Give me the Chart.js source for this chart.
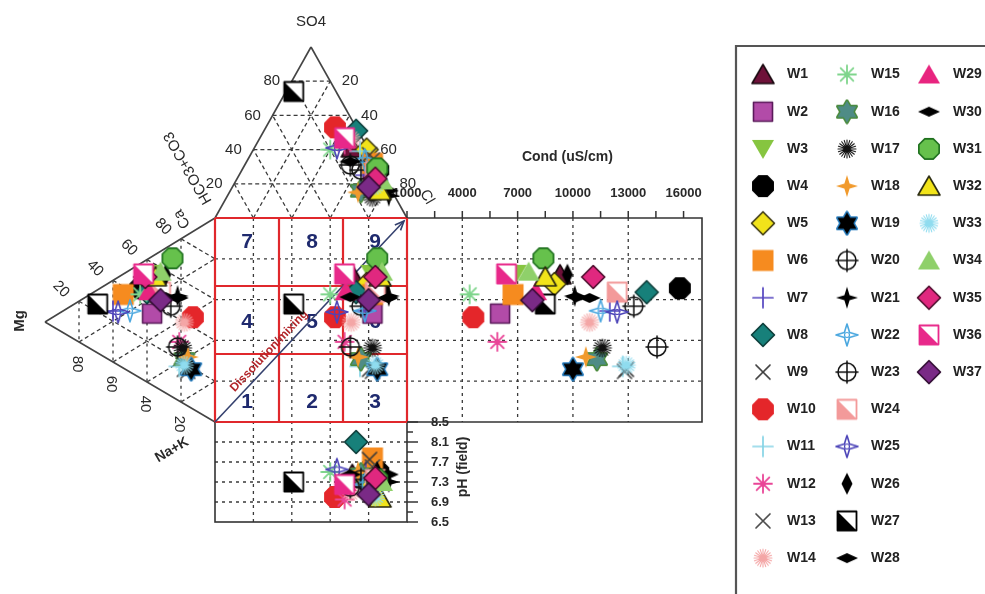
<!DOCTYPE html>
<html>
<head>
<meta charset="utf-8">
<script src="https://cdn.jsdelivr.net/npm/chart.js@4.4.1/dist/chart.umd.min.js"></script>
<style>
  html, body { margin: 0; padding: 0; background: #fff; }
  #wrap { width: 985px; height: 594px; position: relative; }
</style>
</head>
<body>
<div id="wrap"><canvas id="c"></canvas></div>
<script>
// ---- Well data (percent of meq for ions) ----
const wells = ['W1','W2','W3','W4','W5','W6','W7','W8','W9','W10','W11','W12','W13','W14','W15','W16','W17','W18','W19',
  'W20','W21','W22','W23','W24','W25','W26','W27','W28','W29','W30','W31','W32','W33','W34','W35','W36','W37'];
// anions
const so4  = [41,22,31,28,40,32,25,51,37,53,39,43,34,46,40,16,12,15,25,28,13,34,31,27,41,25,74,16,46,33,29,16,19,22,23,47,18];
const cl   = [51,71,66,71,59,66,66,48,62,36,56,46,65,48,40,68,76,67,72,62,84,61,55,70,43,72, 4,82,45,54,70,78,74,76,72,44,71];
const hco3 = [ 8, 7, 3, 1, 1, 2, 9, 1, 1,11, 5,11, 1, 6,20,16,12,18, 3,10, 3, 5,14, 3,16, 3,22, 2, 9,13, 1, 6, 7, 2, 5, 9,11];
// cations
const ca   = [55,35,54,44,50,36,25,44,17,45,17,29,17,40,41,22,27,24,19,44,51,30,26,48,26,58,24,50,45,47,68,54,19,58,51,52,44];
const mg   = [35,37,38,44,36,54,60,40,18,13,21,21,16,18,44,18,19,16,14,26,22,50,22,32,57,29,69,22,39,29,25,35,18,32,41,42,32];
const nak  = [10,28, 8,12,14,10,15,16,65,42,62,50,67,42,15,60,54,60,67,30,27,20,52,20,17,13, 7,28,16,24, 7,11,63,10, 8, 6,24];
// field parameters
const cond = [9300,6050,6900,15800,9000,6750,12000,14000,12900,4600,12700,5900,12800,10900,4400,11300,11600,10700,10000,
  13300,10100,11500,14560,12400,12400,9700,8500,10900,8000,10200,8400,8500,12900,7600,11100,6400,7800];
const ph   = [7.45,7.2,7.4,7.5,7.28,7.78,7.5,8.1,7.75,7.0,7.4,6.95,7.6,7.1,7.5,7.45,7.4,7.5,7.3,7.35,7.3,7.25,7.2,7.35,7.55,
  7.5,7.3,7.45,7.3,7.45,7.35,6.98,7.0,7.3,7.38,7.25,7.05];

// ---- axis ticks ----
const gridPct = [20, 40, 60, 80];
const condTicks = [1000, 4000, 7000, 10000, 13000, 16000];
const condMinorStep = 1500;
const phTicks = [8.5, 8.1, 7.7, 7.3, 6.9, 6.5];
const zoneNames = ['1','2','3','4','5','6','7','8','9'];

// ---- symbol styles per well ----
const symKind = ['tri','square','triDown','octagon','diamond','squareNoEdge','plus','diamond','cross','octagonNoEdge',
  'plus','asterisk','cross','burst','asterisk','david','burst','star4','david','circleCross','star4','star4open',
  'circleCross','half','star4open','diamondV','half','diamondH','triNoEdge','diamondH','octagon','tri','burst',
  'triNoEdge','diamond','half','diamond'];
const symFill = ['#6e1139','#b24ba8','#86c540','#000000','#f1e31a','#f68b1f','#5546c0','#17807a','#3a3a3a','#e4262a',
  '#86d4e6','#e94597','#4a4a4a','#f4a6a6','#7fd58c','#4f8c86','#111111','#f19a2c','#000000','#111111','#000000','#4aa7df',
  '#111111','#f39a9a','#4c44b8','#000000','#000000','#000000','#e8247f','#000000','#66c14c','#f2e41a','#8fdcef',
  '#8fd06a','#e0287f','#e8288a','#7a2a86'];
const symEdge = ['#1a0a10','#5a1a5a',null,'#000000','#3a3510',null,null,'#0b3b38',null,null,
  null,null,null,null,null,'#4a8a3a',null,null,'#2a7fc0',null,null,null,
  null,'#f39a9a',null,null,'#000000',null,null,null,'#1c6e1c','#2a2a10',null,
  null,'#4a0a2a','#e8288a','#2e0a30'];

// ---- layout of the diagram (in canvas units of the x/y scales) ----
const W = 985, H = 594;
const G = {
  sqL: 215, sqR: 407, sqT: 218, sqB: 422,   // central square
  apexS: [311, 47],                          // SO4 apex of anion triangle
  apexM: [45, 322],                          // Mg apex of cation triangle
  condR: 702,                                // right edge of conductance panel
  condX0: 1000, condX1: 17000,               // conductance range across the panel
  phTop: 8.5, phBot: 6.5, phY0: 422, phY1: 522
};

// position inside anion triangle (vertices HCO3 / Cl / SO4)
function anionPos(i) {
  const t = so4[i] + cl[i] + hco3[i];
  const s = so4[i] / t, c = cl[i] / t, h = hco3[i] / t;
  return { x: G.sqL * h + G.sqR * c + G.apexS[0] * s, y: G.sqT * (h + c) + G.apexS[1] * s };
}
// position inside cation triangle (vertices Mg / Ca / Na+K)
function cationPos(i) {
  const t = ca[i] + mg[i] + nak[i];
  const m = mg[i] / t, c = ca[i] / t, n = nak[i] / t;
  return { x: G.apexM[0] * m + G.sqL * (c + n), y: G.apexM[1] * m + G.sqT * c + G.sqB * n };
}

// ---- point symbols as small canvases ----
function makeSymbol(kind, fill, edge) {
  const S = 26, cv = document.createElement('canvas');
  cv.width = S; cv.height = S;
  const g = cv.getContext('2d');
  g.translate(S / 2, S / 2);
  g.lineJoin = 'round';
  g.lineCap = 'round';
  const poly = (pts, doFill = true, strokeCol = edge, lw = 1.6) => {
    g.beginPath();
    pts.forEach(([x, y], k) => k ? g.lineTo(x, y) : g.moveTo(x, y));
    g.closePath();
    if (doFill) { g.fillStyle = fill; g.fill(); }
    if (strokeCol) { g.strokeStyle = strokeCol; g.lineWidth = lw; g.stroke(); }
  };
  const spokes = (n, r, lw) => {
    g.strokeStyle = fill; g.lineWidth = lw; g.beginPath();
    for (let k = 0; k < n; k++) {
      const a = Math.PI * k / n + Math.PI / 2;
      g.moveTo(Math.cos(a) * r, Math.sin(a) * r);
      g.lineTo(-Math.cos(a) * r, -Math.sin(a) * r);
    }
    g.stroke();
  };
  const oct = r => { const p = []; for (let k = 0; k < 8; k++) { const a = Math.PI / 8 + k * Math.PI / 4; p.push([r * Math.cos(a), r * Math.sin(a)]); } return p; };
  const star4 = [[0,-11],[2.6,-2.6],[11,0],[2.6,2.6],[0,11],[-2.6,2.6],[-11,0],[-2.6,-2.6]];
  switch (kind) {
    case 'tri': poly([[0,-10],[11,9],[-11,9]]); break;
    case 'triNoEdge': poly([[0,-10],[11,9],[-11,9]], true, null); break;
    case 'triDown': poly([[0,10],[11,-9],[-11,-9]], true, null); break;
    case 'square': poly([[-9.5,-9.5],[9.5,-9.5],[9.5,9.5],[-9.5,9.5]]); break;
    case 'squareNoEdge': poly([[-10.5,-10.5],[10.5,-10.5],[10.5,10.5],[-10.5,10.5]], true, null); break;
    case 'octagon': poly(oct(11)); break;
    case 'octagonNoEdge': poly(oct(11.8), true, null); break;
    case 'diamond': poly([[0,-11.5],[11.5,0],[0,11.5],[-11.5,0]]); break;
    case 'diamondV': poly([[0,-11],[5.5,0],[0,11],[-5.5,0]], true, null); break;
    case 'diamondH': poly([[-11,0],[0,-5],[11,0],[0,5]], true, null); break;
    case 'plus':
      g.strokeStyle = fill; g.lineWidth = 1.7; g.beginPath();
      g.moveTo(-10,0); g.lineTo(10,0); g.moveTo(0,-10); g.lineTo(0,10); g.stroke(); break;
    case 'cross':
      g.strokeStyle = fill; g.lineWidth = 1.7; g.beginPath();
      g.moveTo(-7,-7); g.lineTo(7,7); g.moveTo(7,-7); g.lineTo(-7,7); g.stroke(); break;
    case 'asterisk': spokes(4, 9, 1.8); break;
    case 'burst': spokes(10, 9, 1.1); break;
    case 'david': {
      const up = [[0,-11],[9.5,5.5],[-9.5,5.5]], dn = [[0,11],[9.5,-5.5],[-9.5,-5.5]];
      if (edge) { poly(up, false, edge, 3); poly(dn, false, edge, 3); }
      poly(up, true, null); poly(dn, true, null); break;
    }
    case 'star4': poly(star4, true, null); break;
    case 'star4open':
      poly(star4, false, fill, 1.6);
      g.beginPath(); g.arc(0, 0, 2.5, 0, Math.PI * 2); g.strokeStyle = fill; g.lineWidth = 1.2; g.stroke(); break;
    case 'circleCross':
      g.strokeStyle = fill; g.lineWidth = 1.5; g.beginPath(); g.arc(0, 0, 9, 0, Math.PI * 2); g.stroke();
      g.beginPath(); g.moveTo(-11,0); g.lineTo(11,0); g.moveTo(0,-11); g.lineTo(0,11); g.stroke(); break;
    case 'half':
      g.fillStyle = '#fff'; g.fillRect(-9.5,-9.5,19,19);
      poly([[-9.5,-9.5],[9.5,9.5],[-9.5,9.5]], true, null);
      g.strokeStyle = edge; g.lineWidth = 1.8; g.strokeRect(-9.5,-9.5,19,19); break;
  }
  return cv;
}
const symbols = wells.map((w, i) => makeSymbol(symKind[i], symFill[i], symEdge[i]));

// ---- datasets: each well appears in the triangles/square, the conductance panel and the pH panel ----
// wells are painted in numeric order, so later wells sit on top
const datasets = [];
wells.forEach((w, i) => {
  const a = anionPos(i), c = cationPos(i);
  const common = { pointStyle: symbols[i], pointRadius: 10, showLine: false, order: 200 - i };
  datasets.push({ label: w, data: [a, c, { x: a.x, y: c.y }], xAxisID: 'x', yAxisID: 'y', ...common });
  datasets.push({ label: w + ' cond', data: [{ x: cond[i], y: c.y }], xAxisID: 'xc', yAxisID: 'y', ...common });
  datasets.push({ label: w + ' pH', data: [{ x: a.x, y: ph[i] }], xAxisID: 'x', yAxisID: 'yp', ...common });
});

// conductance scale spans the whole canvas width so that its range lands on the panel
const condK = (G.condX1 - G.condX0) / (G.condR - G.sqR);
const condMin = G.condX0 - G.sqR * condK, condMax = condMin + W * condK;
const phK = (G.phTop - G.phBot) / (G.phY1 - G.phY0);
const phMax = G.phTop + G.phY0 * phK, phMin = phMax - H * phK;

const FONT = '"Liberation Sans", Arial, sans-serif';
const INK = '#2a2a2a';

function seg(ctx, x1, y1, x2, y2, color, lw, dash) {
  ctx.save();
  ctx.strokeStyle = color; ctx.lineWidth = lw; ctx.setLineDash(dash || []);
  ctx.beginPath(); ctx.moveTo(x1, y1); ctx.lineTo(x2, y2); ctx.stroke();
  ctx.restore();
}
function label(ctx, str, x, y, font, color, rot, align) {
  ctx.save();
  ctx.translate(x, y); ctx.rotate(rot || 0);
  ctx.font = font; ctx.fillStyle = color || INK;
  ctx.textAlign = align || 'center'; ctx.textBaseline = 'middle';
  ctx.fillText(str, 0, 0);
  ctx.restore();
}

const durovPlugin = {
  id: 'durov',
  beforeDatasetsDraw(chart) {
    const { ctx, scales } = chart;
    const X = v => scales.x.getPixelForValue(v), Y = v => scales.y.getPixelForValue(v);
    const XC = v => scales.xc.getPixelForValue(v), YP = v => scales.yp.getPixelForValue(v);
    const P = p => [X(p.x), Y(p.y)];
    // anion and cation triangle points from fractions
    const tA = (h, c, s) => P({ x: G.sqL * h + G.sqR * c + G.apexS[0] * s, y: G.sqT * (h + c) + G.apexS[1] * s });
    const tC = (m, c, n) => P({ x: G.apexM[0] * m + G.sqL * (c + n), y: G.apexM[1] * m + G.sqT * c + G.sqB * n });
    const dash = [4, 3], gcol = '#3a3a3a', glw = 1.3;
    const sL = X(G.sqL), sR = X(G.sqR), sT = Y(G.sqT), sB = Y(G.sqB);
    const pB = YP(G.phBot), cR = XC(G.condX1);

    // grids in the anion triangle
    gridPct.forEach(p => {
      const k = p / 100;
      let a = tA(1 - k, 0, k), b = tA(0, 1 - k, k); seg(ctx, a[0], a[1], b[0], b[1], gcol, glw, dash);
      a = tA(1 - k, k, 0); b = tA(0, k, 1 - k); seg(ctx, a[0], a[1], b[0], b[1], gcol, glw, dash);
      a = tA(k, 1 - k, 0); b = tA(k, 0, 1 - k); seg(ctx, a[0], a[1], b[0], b[1], gcol, glw, dash);
      // verticals through the square and pH panel
      const gx = X(G.sqL + k * (G.sqR - G.sqL));
      seg(ctx, gx, sT, gx, pB, gcol, glw, [3, 4]);
    });
    // grids in the cation triangle
    gridPct.forEach(p => {
      const k = p / 100;
      let a = tC(k, 1 - k, 0), b = tC(k, 0, 1 - k); seg(ctx, a[0], a[1], b[0], b[1], gcol, glw, [3, 4]);
      a = tC(1 - k, k, 0); b = tC(0, k, 1 - k); seg(ctx, a[0], a[1], b[0], b[1], gcol, glw, dash);
      a = tC(1 - k, 0, k); b = tC(0, 1 - k, k); seg(ctx, a[0], a[1], b[0], b[1], gcol, glw, dash);
      // horizontals through the square and conductance panel
      const gy = Y(G.sqT + k * (G.sqB - G.sqT));
      seg(ctx, sL, gy, cR, gy, gcol, glw, [3, 4]);
    });
    // conductance panel verticals
    condTicks.slice(1, 5).forEach(v => seg(ctx, XC(v), sT, XC(v), sB, gcol, glw, [3, 4]));
    // pH panel horizontals
    phTicks.slice(1, 5).forEach(v => seg(ctx, sL, YP(v), sR, YP(v), gcol, glw, [3, 4]));

    // triangle outlines
    const ol = '#444', olw = 1.6;
    let a = tA(1, 0, 0), b = tA(0, 1, 0), s = tA(0, 0, 1);
    seg(ctx, a[0], a[1], s[0], s[1], ol, olw); seg(ctx, b[0], b[1], s[0], s[1], ol, olw);
    a = tC(0, 1, 0); b = tC(0, 0, 1); s = tC(1, 0, 0);
    seg(ctx, a[0], a[1], s[0], s[1], ol, olw); seg(ctx, b[0], b[1], s[0], s[1], ol, olw);

    // pH and conductance frames
    ctx.save(); ctx.strokeStyle = '#333'; ctx.lineWidth = 1.6;
    ctx.strokeRect(sL, sB, sR - sL, pB - sB);
    ctx.beginPath(); ctx.moveTo(sR, sT); ctx.lineTo(cR, sT); ctx.lineTo(cR, sB); ctx.lineTo(sR, sB); ctx.stroke();
    ctx.restore();

    // red 3x3 zone grid
    const red = '#e0282c';
    for (let k = 0; k <= 3; k++) {
      const x = sL + (sR - sL) * k / 3, y = sT + (sB - sT) * k / 3;
      seg(ctx, x, sT, x, sB, red, 2.2); seg(ctx, sL, y, sR, y, red, 2.2);
    }
    // zone numbers
    const zx = [247, 312, 375], zy = [402, 322, 242];
    zoneNames.forEach((n, k) => label(ctx, n, X(zx[k % 3]), Y(zy[Math.floor(k / 3)]), 'bold 21px ' + FONT, '#1f2a6e'));

    // dissolution / mixing arrow
    const ax0 = sL, ay0 = sB, ax1 = sR - 3, ay1 = sT + 3;
    seg(ctx, ax0, ay0, ax1, ay1, '#34406e', 1.6);
    const ang = Math.atan2(ay1 - ay0, ax1 - ax0);
    ctx.save(); ctx.strokeStyle = '#34406e'; ctx.lineWidth = 1.6; ctx.beginPath();
    ctx.moveTo(ax1 - 10 * Math.cos(ang - 0.4), ay1 - 10 * Math.sin(ang - 0.4)); ctx.lineTo(ax1, ay1);
    ctx.lineTo(ax1 - 10 * Math.cos(ang + 0.4), ay1 - 10 * Math.sin(ang + 0.4)); ctx.stroke(); ctx.restore();
    label(ctx, 'Dissolution/mixing', X(269), Y(351), 'bold 12px ' + FONT, '#b2262a', ang);

    // anion triangle labels
    const f15 = '15px ' + FONT;
    gridPct.forEach(p => {
      const k = p / 100;
      const l = tA(1 - k, 0, k); label(ctx, String(p), l[0] - 20, l[1], f15);
      const r = tA(0, k, 1 - k); label(ctx, String(p), r[0] + 20, r[1], f15);
    });
    label(ctx, 'SO4', X(G.apexS[0]), Y(22), '15px ' + FONT);
    label(ctx, 'HCO3+CO3', X(188), Y(168), '15px ' + FONT, INK, -2 * Math.PI / 3);
    label(ctx, 'Cl', X(427), Y(197), '15px ' + FONT, INK, Math.PI / 3);

    // cation triangle labels
    gridPct.forEach(p => {
      const k = p / 100;
      const u = tC(1 - k, k, 0); label(ctx, String(p), u[0] - 18, u[1] - 12, f15, INK, Math.PI / 4);
      const d = tC(k, 0, 1 - k); label(ctx, String(p), d[0] - 2, d[1] + 22, f15, INK, Math.PI / 2);
    });
    label(ctx, 'Mg', X(20), Y(321), 'bold 15px ' + FONT, INK, -Math.PI / 2);
    label(ctx, 'Ca', X(182), Y(219), '15px ' + FONT, INK, -2 * Math.PI / 3);
    label(ctx, 'Na+K', X(172), Y(450), 'bold 14px ' + FONT, INK, -Math.PI / 6);

    // conductance axis (top)
    ctx.save(); ctx.strokeStyle = '#333'; ctx.lineWidth = 1.5;
    for (let v = G.condX0; v <= G.condX1 - 500; v += condMinorStep) {
      ctx.beginPath(); ctx.moveTo(XC(v), sT); ctx.lineTo(XC(v), sT - 7); ctx.stroke();
    }
    ctx.restore();
    condTicks.forEach(v => label(ctx, String(v), XC(v), sT - 25, 'bold 13px ' + FONT));
    label(ctx, 'Cond (uS/cm)', XC(9700), Y(157), 'bold 14px ' + FONT);

    // pH axis (right)
    ctx.save(); ctx.strokeStyle = '#333'; ctx.lineWidth = 1.5;
    for (let v = G.phBot; v <= G.phTop + 1e-6; v += 0.2) {
      const major = phTicks.some(t => Math.abs(t - v) < 1e-6);
      ctx.beginPath(); ctx.moveTo(sR, YP(v)); ctx.lineTo(sR + (major ? 11 : 6), YP(v)); ctx.stroke();
    }
    ctx.restore();
    phTicks.forEach(v => label(ctx, v.toFixed(1), sR + 24, YP(v), 'bold 13px ' + FONT, INK, 0, 'left'));
    label(ctx, 'pH (field)', sR + 56, YP(7.6), 'bold 14px ' + FONT, INK, -Math.PI / 2);
  },
  afterDraw(chart) {
    const { ctx } = chart;
    // legend box (runs off the right and bottom edges)
    ctx.save();
    ctx.strokeStyle = '#555'; ctx.lineWidth = 2.2;
    ctx.beginPath(); ctx.moveTo(736, 640); ctx.lineTo(736, 46); ctx.lineTo(1000, 46); ctx.stroke();
    ctx.restore();
    const colSym = [763, 847, 929], colTxt = [787, 871, 953];
    wells.forEach((w, i) => {
      const col = Math.floor(i / 14), row = i % 14;
      const y = 74.5 + row * 37.2;
      ctx.drawImage(symbols[i], colSym[col] - 13, y - 13);
      label(ctx, w, colTxt[col], y, 'bold 14px ' + FONT, '#222', 0, 'left');
    });
  }
};

new Chart(document.getElementById('c'), {
  type: 'scatter',
  data: { datasets },
  options: {
    responsive: true,
    maintainAspectRatio: false,
    animation: false,
    events: [],
    layout: { padding: 0, autoPadding: false },
    plugins: { legend: { display: false }, tooltip: { enabled: false } },
    scales: {
      x:  { type: 'linear', min: 0, max: W, display: false },
      y:  { type: 'linear', min: 0, max: H, reverse: true, display: false },
      xc: { type: 'linear', axis: 'x', min: condMin, max: condMax, display: false },
      yp: { type: 'linear', axis: 'y', min: phMin, max: phMax, display: false }
    }
  },
  plugins: [durovPlugin]
});
</script>
</body>
</html>
